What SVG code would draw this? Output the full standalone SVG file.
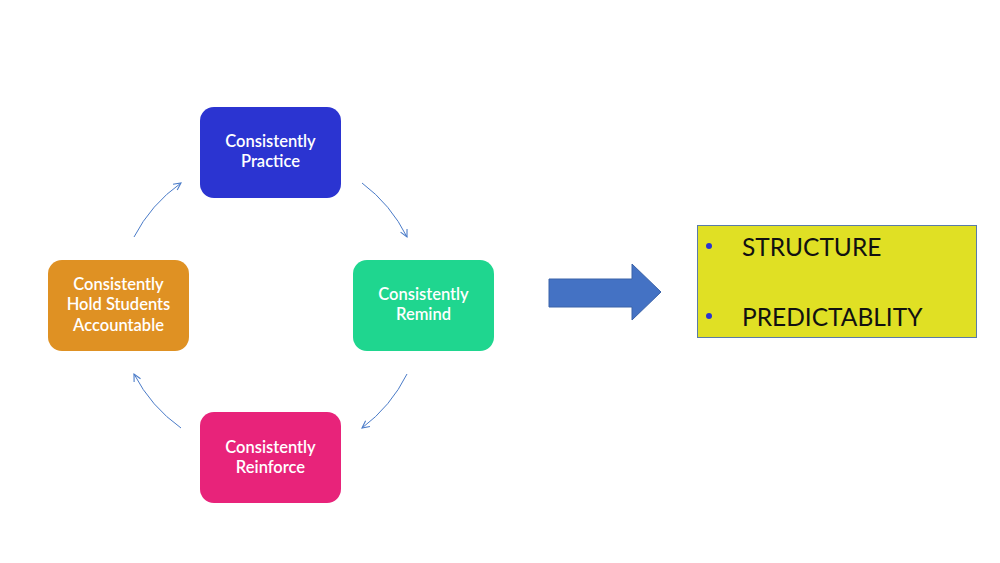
<svg xmlns="http://www.w3.org/2000/svg" width="1000" height="563" viewBox="0 0 1000 563">
<style>
.node text{font-family:Lato,"Liberation Sans",sans-serif;font-size:16.5px;fill:#fff;text-anchor:middle;font-weight:600}
.cyc{fill:none;stroke:#4A7BC8;stroke-width:1}
.lbl{font-family:Lato,"Liberation Sans",sans-serif;font-size:24.5px;fill:#111}
</style>
<defs>
<marker id="ah" viewBox="0 0 10 10" refX="9" refY="5" markerWidth="9" markerHeight="9" markerUnits="userSpaceOnUse" orient="auto">
<path d="M1,1 L9,5 L1,9" fill="none" stroke="#4A7BC8" stroke-width="1.2"/>
</marker>
</defs>
<rect width="1000" height="563" fill="#fff"/>
<g id="connectors">
<path class="cyc" d="M134,237 A152,152 0 0 1 181,183" marker-end="url(#ah)"/>
<path class="cyc" d="M362,183 A152,152 0 0 1 407,237" marker-end="url(#ah)"/>
<path class="cyc" d="M407,374 A152,152 0 0 1 362,428" marker-end="url(#ah)"/>
<path class="cyc" d="M181,428 A152,152 0 0 1 134,374" marker-end="url(#ah)"/>
</g>
<g id="practice" class="node">
<rect x="200" y="107" width="141" height="91" rx="14" fill="#2B34D1"/>
<text x="270.5" y="147">Consistently</text>
<text x="270.5" y="167">Practice</text>
</g>
<g id="remind" class="node">
<rect x="353" y="260" width="141" height="91" rx="14" fill="#1FD68F"/>
<text x="423.5" y="300">Consistently</text>
<text x="423.5" y="320">Remind</text>
</g>
<g id="reinforce" class="node">
<rect x="200" y="412" width="141" height="91" rx="14" fill="#E8237A"/>
<text x="270.5" y="453">Consistently</text>
<text x="270.5" y="473">Reinforce</text>
</g>
<g id="accountable" class="node">
<rect x="48" y="260" width="141" height="91" rx="14" fill="#DF9123"/>
<text x="118.5" y="290">Consistently</text>
<text x="118.5" y="310">Hold Students</text>
<text x="118.5" y="331">Accountable</text>
</g>
<g id="block-arrow">
<path d="M549,279 L632,279 L632,264 L661,292 L632,320 L632,307 L549,307 Z" fill="#4472C4" stroke="#3A62A8" stroke-width="1"/>
</g>
<g id="outcomes">
<rect x="697.5" y="225.5" width="279" height="112" fill="#E0E024" stroke="#5A7BA8" stroke-width="1"/>
<circle cx="709" cy="246" r="3" fill="#2B34D1"/>
<circle cx="709" cy="316" r="3" fill="#2B34D1"/>
<text class="lbl" x="742" y="256">STRUCTURE</text>
<text class="lbl" x="742" y="326">PREDICTABLITY</text>
</g>
</svg>
